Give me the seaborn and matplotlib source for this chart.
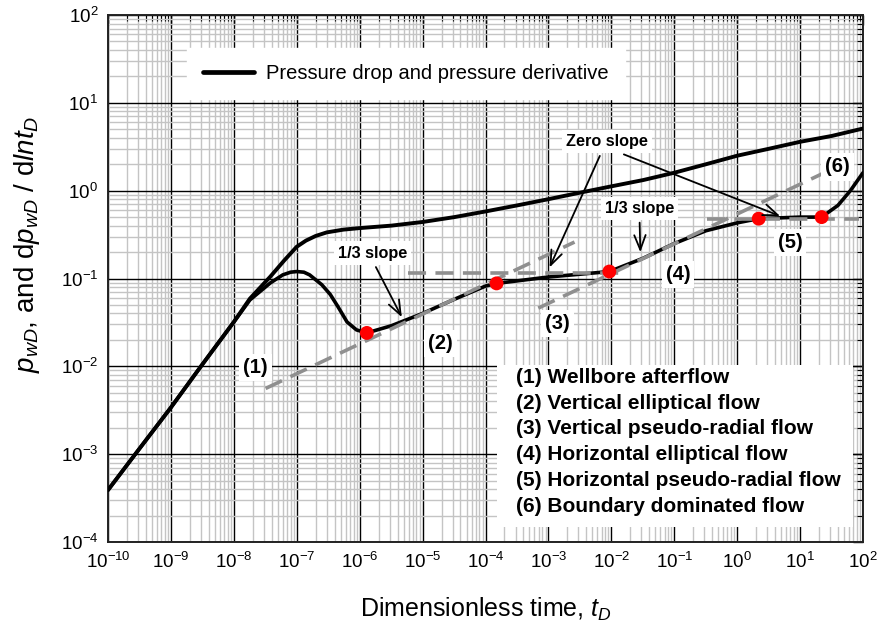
"""
Pressure drop / derivative type curve with flow regime markers (log-log).
"""

import numpy as np
import matplotlib
matplotlib.use("Agg")
import matplotlib.pyplot as plt
from matplotlib.ticker import LogLocator, NullFormatter
from matplotlib.patches import Rectangle
import seaborn as sns

# ================== DATA ==================
# pressure drop curve (t_D, p_wD)
p_t = [1e-10, 3e-10, 1e-9, 3e-9, 1e-8, 1.8e-8, 3.8e-8, 6.3e-8, 1e-7, 1.4e-7,
       2e-7, 3e-7, 5.5e-7, 1e-6, 3.2e-6, 1e-5, 3.2e-5, 1e-4, 3.2e-4, 1e-3,
       3.2e-3, 1e-2, 3.2e-2, 1e-1, 3.2e-1, 1e0, 3.2e0, 1e1, 3.2e1, 1e2]
p_val = [3.9e-4, 1.1e-3, 3.4e-3, 0.010, 0.032, 0.059, 0.105, 0.16, 0.23, 0.27,
         0.305, 0.335, 0.36, 0.375, 0.40, 0.44, 0.50, 0.58, 0.68, 0.80,
         0.95, 1.12, 1.32, 1.60, 2.00, 2.50, 3.00, 3.60, 4.20, 5.10]

# pressure derivative curve (t_D, dp_wD/dln t_D)
d_t = [1e-10, 3e-10, 1e-9, 3e-9, 1e-8, 1.8e-8, 3.8e-8, 6e-8, 8e-8, 1e-7, 1.3e-7,
       1.6e-7, 2.5e-7, 3.4e-7, 4.5e-7, 6.3e-7, 8.9e-7, 1.3e-6, 3.2e-6, 1e-5,
       3.2e-5, 1e-4, 1.5e-4, 3.2e-4, 1e-3, 3.2e-3, 9.3e-3, 3.2e-2, 1e-1,
       3.2e-1, 1e0, 2.2e0, 1e1, 2.2e1, 4e1, 6.3e1, 1e2]
d_val = [3.9e-4, 1.1e-3, 3.4e-3, 0.010, 0.032, 0.057, 0.089, 0.110, 0.118, 0.12,
         0.118, 0.110, 0.085, 0.066, 0.048, 0.032, 0.026, 0.024, 0.029, 0.040,
         0.058, 0.082, 0.088, 0.094, 0.104, 0.112, 0.120, 0.17, 0.25,
         0.35, 0.43, 0.48, 0.50, 0.50, 0.68, 1.00, 1.60]

# flow regime points (red dots)
dot_t = [1.3e-6, 1.5e-4, 9.3e-3, 2.2e0, 2.2e1]
dot_val = [0.024, 0.088, 0.120, 0.48, 0.50]

# reference lines (dashed grey)
third_slope_a_t = [3.2e-8, 2.6e-3]
third_slope_a_val = [5.6e-3, 0.26]
zero_a_t = [5.9e-6, 1.8e-2]
zero_a_val = [0.117, 0.117]
third_slope_b_t = [6.9e-4, 23.0]
third_slope_b_val = [0.046, 1.57]
zero_b_t = [0.33, 85.0]
zero_b_val = [0.48, 0.48]

x_decades = [10.0 ** k for k in range(-10, 3)]
y_decades = [10.0 ** k for k in range(-4, 3)]

regime_tags = ["(1)", "(2)", "(3)", "(4)", "(5)", "(6)"]
regime_labels = ["(1) Wellbore afterflow",
                 "(2) Vertical elliptical flow",
                 "(3) Vertical pseudo-radial flow",
                 "(4) Horizontal elliptical flow",
                 "(5) Horizontal pseudo-radial flow",
                 "(6) Boundary dominated flow"]

# ================== STYLE ==================
sns.set_style("white")
plt.rcParams['font.family'] = ['Liberation Sans', 'DejaVu Sans']
plt.rcParams['text.color'] = 'black'
plt.rcParams['axes.labelcolor'] = 'black'
plt.rcParams['xtick.color'] = 'black'
plt.rcParams['ytick.color'] = 'black'
plt.rcParams['mathtext.fontset'] = 'custom'
plt.rcParams['mathtext.rm'] = 'Liberation Sans'
plt.rcParams['mathtext.it'] = 'Liberation Sans:italic'
plt.rcParams['mathtext.bf'] = 'Liberation Sans:bold'
plt.rcParams['axes.unicode_minus'] = False

GREY = "#8f8f8f"
DASH = (5, 2.6)

fig = plt.figure(figsize=(8.81, 6.30), dpi=100)
ax = fig.add_axes([108 / 881, 1 - 542 / 630, 755 / 881, 527 / 630])

# curves
sns.lineplot(x=p_t, y=p_val, ax=ax, color="black", lw=2.8, sort=False,
             label="Pressure drop and pressure derivative", zorder=4)
sns.lineplot(x=d_t, y=d_val, ax=ax, color="black", lw=2.6, sort=False,
             zorder=4, legend=False)

# reference lines
for xs, ys in [(third_slope_a_t, third_slope_a_val), (zero_a_t, zero_a_val),
               (third_slope_b_t, third_slope_b_val), (zero_b_t, zero_b_val)]:
    ax.plot(xs, ys, color=GREY, lw=2.6, dashes=DASH, zorder=5)

sns.scatterplot(x=dot_t, y=dot_val, ax=ax, color="red", s=100,
                edgecolor="none", zorder=7, legend=False)

ax.set_xscale("log")
ax.set_yscale("log")
ax.set_xticks(x_decades)
ax.set_yticks(y_decades)
ax.xaxis.set_minor_locator(LogLocator(base=10, subs=np.arange(2, 10), numticks=200))
ax.yaxis.set_minor_locator(LogLocator(base=10, subs=np.arange(2, 10), numticks=200))
ax.xaxis.set_minor_formatter(NullFormatter())
ax.yaxis.set_minor_formatter(NullFormatter())
ax.set_xlim(1e-10, 1e2)
ax.set_ylim(1e-4, 1e2)

# grid
ax.grid(which="minor", color="#c4c4c4", lw=1.0, zorder=0)
ax.grid(which="major", color="black", lw=1.0, zorder=1)
ax.set_axisbelow(True)
ax.tick_params(which="both", direction="in", top=True, right=True,
               labelsize=13.5, color="black")
ax.tick_params(which="major", length=7, width=1.0, pad=7)
ax.tick_params(which="minor", length=4, width=0.8)
for sp in ax.spines.values():
    sp.set_color("#222222")
    sp.set_linewidth(1.4)

ax.set_xlabel(r"Dimensionless time, $t_D$", fontsize=18)
ax.set_ylabel(r"$p_{wD}$, and d$p_{wD}$ / d$lnt_D$", fontsize=20)
ax.xaxis.set_label_coords(0.5, -0.102)
ax.yaxis.set_label_coords(-0.088, 0.565)

leg = ax.legend(loc="upper left", bbox_to_anchor=(0.105, 0.937), fontsize=14.5,
                frameon=True, fancybox=False, handlelength=2.5,
                handletextpad=0.6, borderpad=0.8, borderaxespad=0)
leg.get_frame().set_edgecolor("white")
leg.get_frame().set_facecolor("white")
leg.get_frame().set_alpha(1)
leg.set_zorder(10)
for h in leg.get_lines():
    h.set_linewidth(3.4)

# annotations
box = dict(boxstyle="square,pad=0.25", fc="white", ec="none")
arrow = dict(arrowstyle="->,head_length=0.9,head_width=0.35", color="black", lw=1.3)
ann_kw = dict(fontsize=11.7, fontweight="bold", ha="center", va="center",
              bbox=box, zorder=9)

ax.annotate("1/3 slope", xy=(4.9e-6, 0.034), xytext=(1.6e-6, 0.195),
            arrowprops=dict(arrow, relpos=(0.5, 0.0)), **ann_kw)
ax.annotate("1/3 slope", xy=(2.9e-2, 0.185), xytext=(2.8e-2, 0.63),
            arrowprops=dict(arrow, relpos=(0.5, 0.0)), **ann_kw)
ax.annotate("Zero slope", xy=(1.0e-3, 0.125), xytext=(8.5e-3, 3.6),
            arrowprops=dict(arrow, relpos=(0.45, 0.0)), **ann_kw)
ax.annotate("Zero slope", xy=(5.3, 0.50), xytext=(8.5e-3, 3.6),
            arrowprops=dict(arrow, relpos=(0.55, 0.0)), **ann_kw)

tag_x = [2.2e-8, 1.9e-5, 1.4e-3, 0.115, 6.9, 39.0]
tag_y = [9.8e-3, 1.84e-2, 3.1e-2, 0.11, 0.26, 1.86]
for txt, xt, yt in zip(regime_tags, tag_x, tag_y):
    ax.text(xt, yt, txt, fontsize=14.5, fontweight="bold", ha="center",
            va="center", bbox=dict(boxstyle="square,pad=0.2", fc="white", ec="none"),
            zorder=9)

# regime description box
ax.add_patch(Rectangle((0.515, 0.0285), 0.4715, 0.307, transform=ax.transAxes,
                       fc="white", ec="none", zorder=8))
ax.text(0.540, 0.190, "\n".join(regime_labels), transform=ax.transAxes,
        fontsize=15, fontweight="bold", ha="left", va="center",
        linespacing=1.46, zorder=9)

fig.savefig("out.png", dpi=100)
